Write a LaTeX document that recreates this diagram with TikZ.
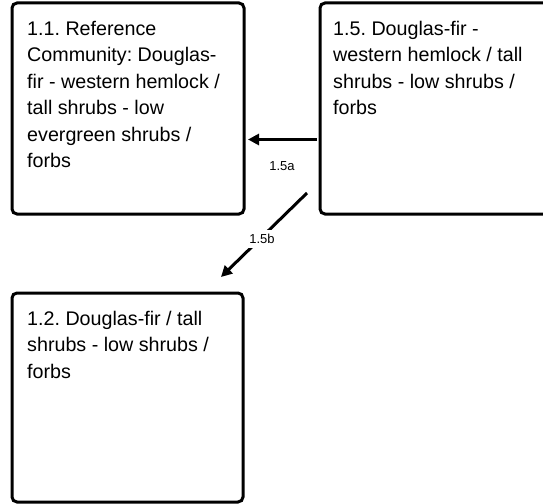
\documentclass[tikz,border=0pt]{standalone}
\usepackage{fontspec}
\setmainfont{Liberation Sans}
\usetikzlibrary{arrows.meta}
\frenchspacing
\tikzset{
  box/.style={draw=black, line width=3bp, rounded corners=5bp, fill=white, outer sep=0pt, inner sep=0pt, anchor=north west},
  boxtext/.style={anchor=north west, inner sep=0pt, align=left, font=\frenchspacing\fontsize{19.7bp}{26.5bp}\selectfont},
  arr/.style={line width=3bp, -{Triangle[length=11bp,width=11bp]}},
  lab/.style={font=\fontsize{13bp}{15bp}\selectfont, fill=white, inner sep=4bp}
}
\begin{document}
\begin{tikzpicture}[x=1bp,y=-1bp]
\useasboundingbox (0,0) rectangle (543,504);
\clip (0,0) rectangle (543,504);
\node[box, minimum width=232bp, minimum height=211bp] (b11) at (12,3) {};
\node[box, minimum width=232bp, minimum height=211bp] (b15) at (320,3) {};
\node[box, minimum width=231bp, minimum height=209bp] (b12) at (12,293) {};
\node[boxtext] (t11) at ([xshift=15bp,yshift=-13.5bp]b11.north west) {\strut 1.1. Reference\\Community: Douglas-\\fir - western hemlock /\\tall shrubs - low\\evergreen shrubs /\\forbs};
\node[boxtext] (t15) at ([xshift=13bp,yshift=-13.5bp]b15.north west) {\strut 1.5. Douglas-fir -\\western hemlock / tall\\shrubs - low shrubs /\\forbs};
\node[boxtext] (t12) at ([xshift=15bp,yshift=-13.5bp]b12.north west) {\strut 1.2. Douglas-fir / tall\\shrubs - low shrubs /\\forbs};
\coordinate (a1s) at ([xshift=-3bp,yshift=-31bp]b15.west);
\coordinate (a1e) at ([xshift=4bp,yshift=-31bp]b11.east);
\draw[arr] (a1s) -- (a1e);
\node[lab, fill=none] (l1) at (282,166) {1.5a};
\coordinate (a2s) at ([xshift=-13bp,yshift=21bp]b15.south west);
\coordinate (a2e) at ([xshift=209bp,yshift=16bp]b12.north west);
\draw[arr] (a2s) -- (a2e);
\node[lab] (l2) at (262,239) {1.5b};
\end{tikzpicture}
\end{document}
